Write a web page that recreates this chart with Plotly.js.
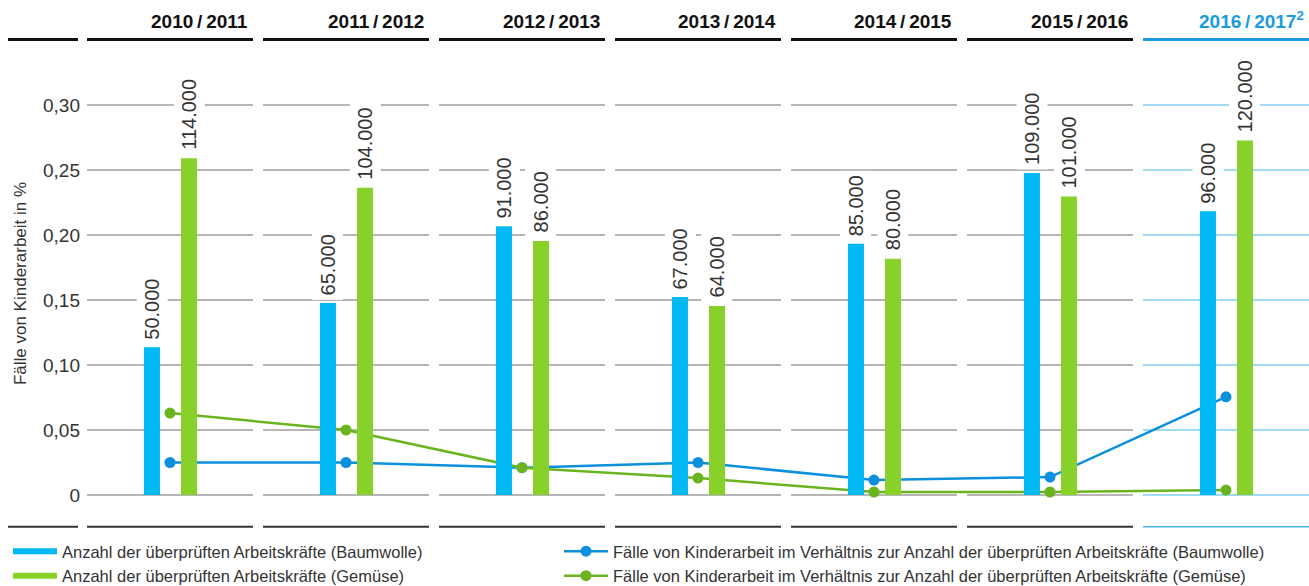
<!DOCTYPE html>
<html><head><meta charset="utf-8">
<script src="https://cdn.plot.ly/plotly-3.0.1.min.js"></script>
<style>html,body{margin:0;padding:0;background:#fff;} #chart{width:1309px;height:586px;}</style>
</head><body><div id="chart"></div>
<script>
// ---- data ----
const seasons = ['2010/2011', '2011/2012', '2012/2013', '2013/2014', '2014/2015', '2015/2016', '2016/2017'];
const seasonLabels = ['2010\u2009/\u20092011', '2011\u2009/\u20092012', '2012\u2009/\u20092013', '2013\u2009/\u20092014', '2014\u2009/\u20092015', '2015\u2009/\u20092016', '2016\u2009/\u20092017<sup>2</sup>'];
const workersCotton = [50000, 65000, 91000, 67000, 85000, 109000, 96000];
const workersVeg = [114000, 104000, 86000, 64000, 80000, 101000, 120000];
const childLabourCotton = [0.025, 0.025, 0.021, 0.025, 0.0115, 0.0138, 0.0755];
const childLabourVeg = [0.063, 0.05, 0.021, 0.013, 0.0023, 0.0023, 0.0038];
const yTickVals = [0, 0.05, 0.10, 0.15, 0.20, 0.25, 0.30];
const yTickText = ['0', '0,05', '0,10', '0,15', '0,20', '0,25', '0,30'];
const legendNames = [
  'Anzahl der überprüften Arbeitskräfte (Baumwolle)',
  'Fälle von Kinderarbeit im Verhältnis zur Anzahl der überprüften Arbeitskräfte (Baumwolle)',
  'Anzahl der überprüften Arbeitskräfte (Gemüse)',
  'Fälle von Kinderarbeit im Verhältnis zur Anzahl der überprüften Arbeitskräfte (Gemüse)'
];
const yTitle = 'Fälle von Kinderarbeit in %';

// ---- styles ----
const FONT = 'Liberation Sans, Arial, sans-serif';
const TXT = '#333333';
const C_BAR_COT = '#00b9f2', C_BAR_VEG = '#88d02a';
const C_LINE_COT = '#0b90dd', C_LINE_VEG = '#6ab41f';
const C_HIGHLIGHT = '#1a9be0', C_GRID = '#6e6e6e', C_GRID_HL = '#40b4e8';

const W = 1309, H = 586, ML = 87, MR = 0, MT = 40, MB = 59;
const X0 = -0.4716, X1 = 6.4716;
const Y0 = -0.02462, Y1 = 0.35;
const K = 440000; // workers per percentage unit on the secondary axis
const HALF = 0.4716;
const BAR_W = 0.091, OFF_COT = -0.148, OFF_VEG = 0.0625;

const pw = W - ML - MR, ph = H - MT - MB;
const px2paperX = p => (p - ML) / pw;
const px2paperY = p => (H - MB - p) / ph;
const x2paper = x => (x - X0) / (X1 - X0);
const idx = seasons.map((_, i) => i);
const fmt = n => String(n).replace(/\B(?=(\d{3})+(?!\d))/g, '.');

const traces = [
  // legend swatches for the bar series (drawn as thick lines like the original)
  {type: 'scatter', mode: 'lines', x: [null], y: [null], line: {color: C_BAR_COT, width: 6},
   name: legendNames[0], legend: 'legend', hoverinfo: 'skip'},
  {type: 'scatter', mode: 'lines', x: [null], y: [null], line: {color: C_BAR_VEG, width: 6},
   name: legendNames[2], legend: 'legend', hoverinfo: 'skip'},
  {type: 'scatter', mode: 'lines+markers', x: seasons, y: childLabourCotton, yaxis: 'y',
   line: {color: C_LINE_COT, width: 2.5}, marker: {color: C_LINE_COT, size: 11},
   name: legendNames[1], legend: 'legend2', hoverinfo: 'y'},
  {type: 'scatter', mode: 'lines+markers', x: seasons, y: childLabourVeg, yaxis: 'y',
   line: {color: C_LINE_VEG, width: 2.5}, marker: {color: C_LINE_VEG, size: 11},
   name: legendNames[3], legend: 'legend2', hoverinfo: 'y'},
  {type: 'bar', x: seasons, y: workersCotton, yaxis: 'y2', marker: {color: C_BAR_COT},
   width: BAR_W, offset: OFF_COT, showlegend: false, name: legendNames[0]},
  {type: 'bar', x: seasons, y: workersVeg, yaxis: 'y2', marker: {color: C_BAR_VEG},
   width: BAR_W, offset: OFF_VEG, showlegend: false, name: legendNames[2]}
];

const shapes = [];
// segmented gridlines per column
idx.forEach(i => {
  yTickVals.forEach(v => {
    shapes.push({type: 'line', xref: 'x', yref: 'y', x0: i - HALF, x1: i + HALF, y0: v, y1: v,
      line: {color: i === 6 ? C_GRID_HL : C_GRID, width: 1}, layer: 'below'});
  });
});
// header and footer rules
const colEdges = [[px2paperX(8), px2paperX(78)]].concat(idx.map(i => [x2paper(i - HALF), x2paper(i + HALF)]));
colEdges.forEach((e, k) => {
  const hl = k === 7;
  shapes.push({type: 'line', xref: 'paper', yref: 'paper', x0: e[0], x1: e[1], y0: 1.001, y1: 1.001,
    line: {color: hl ? C_HIGHLIGHT : '#111111', width: 3}});
  shapes.push({type: 'line', xref: 'paper', yref: 'paper', x0: e[0], x1: e[1], y0: 0.0006, y1: 0.0006,
    line: {color: hl ? C_GRID_HL : '#333333', width: hl ? 1.5 : 2}});
});

const annotations = [];
idx.forEach(i => {
  annotations.push({xref: 'x', yref: 'paper', x: i + HALF - 0.015, y: 1, xanchor: 'right', yanchor: 'bottom',
    yshift: 6, showarrow: false, text: '<b>' + seasonLabels[i] + '</b>',
    font: {family: FONT, size: 19, color: i === 6 ? C_HIGHLIGHT : '#111111'}});
  [[workersCotton, OFF_COT], [workersVeg, OFF_VEG]].forEach(([arr, off]) => {
    annotations.push({xref: 'x', yref: 'y2', x: i + off + BAR_W / 2, y: arr[i], textangle: -90,
      xanchor: 'center', yanchor: 'bottom', yshift: 3, showarrow: false, text: fmt(arr[i]),
      bgcolor: '#ffffff', borderpad: 4, font: {family: FONT, size: 20, color: TXT}});
  });
});

const legendBase = {orientation: 'v', xanchor: 'left', y: px2paperY(534), yanchor: 'top',
  traceorder: 'normal', font: {family: FONT, size: 16.5, color: TXT}, bgcolor: 'rgba(0,0,0,0)',
  itemwidth: 44, maxheight: 300, tracegroupgap: 0};

const layout = {
  width: W, height: H,
  margin: {l: ML, r: MR, t: MT, b: MB, autoexpand: false},
  paper_bgcolor: '#ffffff', plot_bgcolor: 'rgba(0,0,0,0)',
  font: {family: FONT, color: TXT},
  separators: ',.',
  showlegend: true,
  barmode: 'overlay',
  xaxis: {type: 'category', categoryarray: seasons, range: [X0, X1], visible: false, fixedrange: true},
  yaxis: {range: [Y0, Y1], tickvals: yTickVals, ticktext: yTickText, showgrid: false, zeroline: false,
    showline: false, ticks: '', ticklabelstandoff: 6, tickfont: {family: FONT, size: 19, color: TXT},
    title: {text: yTitle, font: {family: FONT, size: 17, color: TXT}, standoff: 12}, fixedrange: true},
  yaxis2: {overlaying: 'y', range: [Y0 * K, Y1 * K], visible: false, fixedrange: true},
  legend: Object.assign({}, legendBase, {x: px2paperX(8)}),
  legend2: Object.assign({}, legendBase, {x: px2paperX(559)}),
  shapes: shapes,
  annotations: annotations
};

Plotly.newPlot('chart', traces, layout, {displayModeBar: false, staticPlot: true});
</script>
</body></html>
